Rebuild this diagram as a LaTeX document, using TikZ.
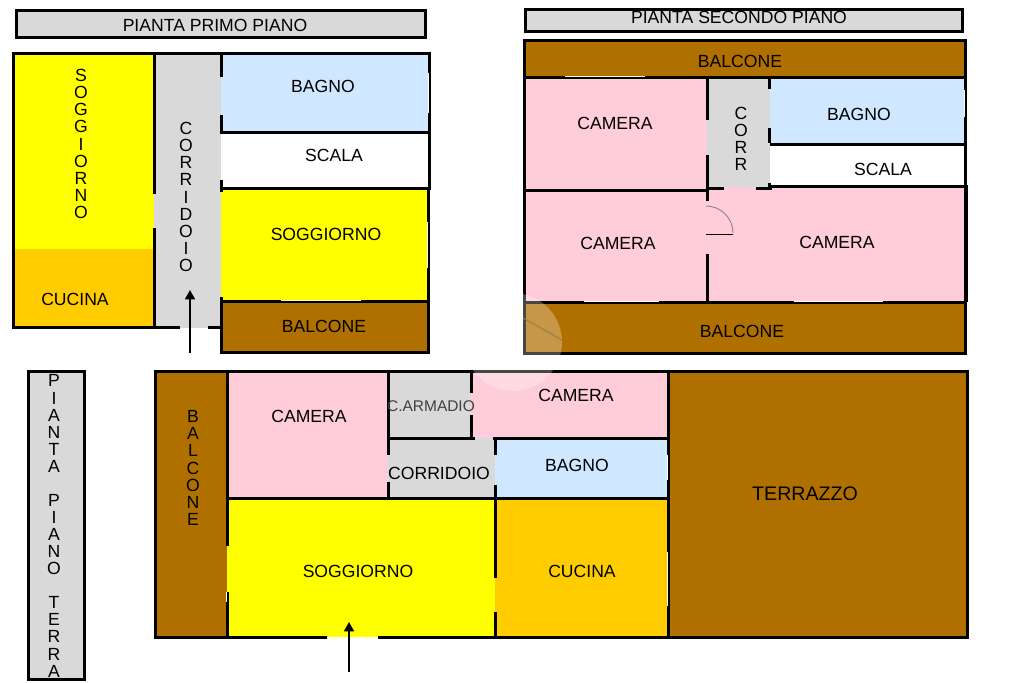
\documentclass[tikz,border=0pt]{standalone}
\usepackage{fontspec}
\setmainfont{Liberation Sans}
\usetikzlibrary{arrows.meta}
\definecolor{giallo}{RGB}{255,255,0}
\definecolor{arancio}{RGB}{255,204,0}
\definecolor{marrone}{RGB}{176,112,0}
\definecolor{rosa}{RGB}{255,204,217}
\definecolor{azzurro}{RGB}{208,232,255}
\definecolor{grigio}{RGB}{217,217,217}
\tikzset{
  >=stealth,
  font=\fontsize{13.2}{16}\selectfont,
  room/.style={fill=#1},
  wall/.style={draw,line width=2.25pt},
  window/.style={draw=white,line width=0.6pt},
  titlebox/.style={draw,fill=grigio,line width=2.25pt},
  label/.style={inner sep=0,text=black},
  vertical/.style={label,align=center,font=\fontsize{13.2}{12.8}\selectfont},
  entry/.style={draw,line width=1.2pt,-{Triangle[length=7pt,width=7.5pt]}}
}
\begin{document}
\begin{tikzpicture}[x=0.75pt,y=-0.75pt]
  \useasboundingbox (0,0) rectangle (1024,682);

  % primo piano
  \path [titlebox] (16,10) rectangle (425,37);
  \path [room=giallo] (13,53) rectangle (154,249);
  \path [room=arancio] (13,249) rectangle (154,327);
  \path [room=grigio] (154,53) rectangle (221,328);
  \path [room=azzurro] (221,53) rectangle (429,132);
  \path [room=giallo] (221,188) rectangle (428,301);
  \path [room=marrone] (221,301) rectangle (428,352);
  \path [wall] (154,53) -- (13,53) -- (13,327) -- (180,327);
  \path [wall] (208,327) -- (221,327);
  \path [wall] (154,53) -- (429,53) -- (429,188) -- (428,188) -- (428,352) -- (221,352) -- (221,297);
  \path [wall] (154,53) -- (154,194);
  \path [wall] (154,228) -- (154,327);
  \path [wall] (221,53) -- (221,77);
  \path [wall] (221,115) -- (221,134);
  \path [wall] (221,180) -- (221,192);
  \path [wall] (221,132) -- (429,132);
  \path [wall] (221,188) -- (428,188);
  \path [wall] (221,301) -- (428,301);
  \path [window] (428.5,73) -- (428.5,113);
  \path [window] (427.5,222) -- (427.5,268);
  \path [window] (281,300.5) -- (361,300.5);
  \path [entry] (190,353) -- (190,290);
  \node (titoloprimo) [label] at (215,25) {PIANTA PRIMO PIANO};
  \node (soggprimoa) [vertical] at (81,144) {S\\O\\G\\G\\I\\O\\R\\N\\O};
  \node (corrprimo) [vertical] at (186,197) {C\\O\\R\\R\\I\\D\\O\\I\\O};
  \node (cucinaprimo) [label] at (75,299) {CUCINA};
  \node (bagnoprimo) [label] at (323,86) {BAGNO};
  \node (scalaprimo) [label] at (334,155) {SCALA};
  \node (soggprimob) [label] at (326,234) {SOGGIORNO};
  \node (balconeprimo) [label] at (324,326) {BALCONE};

  % secondo piano
  \path [titlebox] (525,9) rectangle (962,31);
  \path [room=marrone] (524,40) rectangle (965,77);
  \path [room=rosa] (524,77) rectangle (707,190);
  \path [room=grigio] (707,77) rectangle (770,188);
  \path [room=azzurro] (770,77) rectangle (964,144);
  \path [room=rosa] (524,190) rectangle (707,302);
  \path [room=rosa] (707,187) rectangle (966,302);
  \path [room=marrone] (524,302) rectangle (965,353);
  \path [wall] (524,40) rectangle (965,353);
  \path [wall] (524,77) -- (965,77);
  \path [wall] (524,190) -- (707,190);
  \path [wall] (707,188) -- (724,188);
  \path [wall] (756,188) -- (770,188) -- (770,186) -- (966,186) -- (966,302);
  \path [wall] (770,144) -- (964,144);
  \path [wall] (524,302) -- (966,302);
  \path [wall] (707,77) -- (707,120);
  \path [wall] (707,155) -- (707,201);
  \path [wall] (707,254) -- (707,302);
  \path [wall] (769,77) -- (769,89);
  \path [wall] (769,128) -- (769,143);
  \path [wall] (769,183) -- (769,188);
  \path [window] (565,76) -- (645,76);
  \path [window] (584,301.5) -- (659,301.5);
  \path [window] (794,301.5) -- (883,301.5);
  \path [window] (964.5,90) -- (964.5,117);
  \path [draw,line width=0.7pt] (706,234) -- (733,234);
  \path [draw,gray,line width=0.6pt] (706,206) arc[start angle=-90,end angle=0,radius=27];
  \node (titolosecondo) [label] at (739,17) {PIANTA SECONDO PIANO};
  \node (balconesecondoa) [label] at (740,61) {BALCONE};
  \node (cameraalta) [label] at (615,123) {CAMERA};
  \node (corrsecondo) [vertical] at (741,139) {C\\O\\R\\R};
  \node (bagnosecondo) [label] at (859,114) {BAGNO};
  \node (scalasecondo) [label] at (883,169) {SCALA};
  \node (camerasx) [label] at (618,243) {CAMERA};
  \node (cameradx) [label] at (837,242) {CAMERA};
  \node (balconesecondob) [label] at (742,331) {BALCONE};

  % piano terra
  \path [titlebox] (28,371) rectangle (84,679);
  \path [room=marrone] (155,371) rectangle (227,637);
  \path [room=rosa] (227,371) rectangle (388,498);
  \path [room=grigio] (388,371) rectangle (471,438);
  \path [room=grigio] (388,438) rectangle (495,498);
  \path [room=rosa] (471,371) rectangle (668,438);
  \path [room=azzurro] (495,438) rectangle (668,498);
  \path [room=giallo] (227,498) rectangle (495,637);
  \path [room=arancio] (495,498) rectangle (668,637);
  \path [room=marrone] (668,371) rectangle (967,637);
  \path [wall] (327,637) -- (155,637) -- (155,371) -- (967,371) -- (967,637) -- (378,637);
  \path [wall] (227,371) -- (227,546);
  \path [wall] (227,592) -- (227,637);
  \path [wall] (388,371) -- (388,455);
  \path [wall] (388,482) -- (388,498);
  \path [wall] (471,371) -- (471,393);
  \path [wall] (471,415) -- (471,438);
  \path [wall] (388,438) -- (475,438);
  \path [wall] (493,438) -- (668,438);
  \path [wall] (495,438) -- (495,455);
  \path [wall] (495,485) -- (495,578);
  \path [wall] (495,612) -- (495,637);
  \path [wall] (227,498) -- (668,498);
  \path [wall] (668,371) -- (668,637);
  \path [window] (226.5,592) -- (226.5,602);
  \path [window] (667.5,455) -- (667.5,480);
  \path [window] (667.5,552) -- (667.5,606);
  \path [entry] (349,672) -- (349,622);
  \node (titoloterra) [vertical] at (54,526) {P\\I\\A\\N\\T\\A\\~\\P\\I\\A\\N\\O\\~\\T\\E\\R\\R\\A};
  \node (balconeterra) [vertical] at (193,468) {B\\A\\L\\C\\O\\N\\E};
  \node (cameraterraa) [label] at (309,416) {CAMERA};
  \node (armadio) [label,text=black!75,font=\fontsize{11.6}{14}\selectfont] at (431,406) {C.ARMADIO};
  \node (cameraterrab) [label] at (576,395) {CAMERA};
  \node (corrterra) [label] at (439,473) {CORRIDOIO};
  \node (bagnoterra) [label] at (577,465) {BAGNO};
  \node (soggterra) [label] at (358,571) {SOGGIORNO};
  \node (cucinaterra) [label] at (582,571) {CUCINA};
  \node (terrazzo) [label,font=\fontsize{14.7}{18}\selectfont] at (805,494) {TERRAZZO};

  % cerchio chiaro sopra la pianta
  \path [draw,black!35!marrone,line width=0.7pt] (523,318) -- (562,340);
  \fill [white,opacity=0.28] (513,342) circle (49);
\end{tikzpicture}
\end{document}
